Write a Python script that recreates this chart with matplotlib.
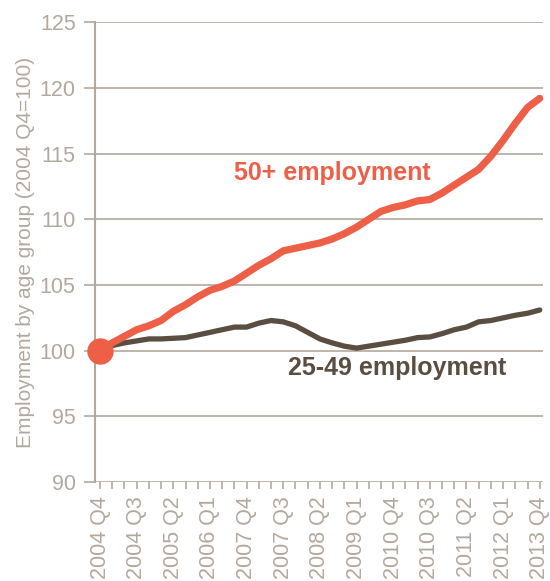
import numpy as np
import matplotlib
matplotlib.use("Agg")
import matplotlib.pyplot as plt

# quarterly index values, 2004 Q4 = 100
older = [100.0, 100.6, 101.1, 101.6, 101.9, 102.3, 103.0, 103.5, 104.1, 104.6,
         104.9, 105.3, 105.9, 106.5, 107.0, 107.6, 107.8, 108.0, 108.2, 108.5,
         108.9, 109.4, 110.0, 110.6, 110.9, 111.1, 111.4, 111.5, 112.0, 112.6,
         113.2, 113.8, 114.8, 116.0, 117.3, 118.5, 119.2]
prime = [100.0, 100.4, 100.6, 100.75, 100.9, 100.9, 100.95, 101.0, 101.2, 101.4,
         101.6, 101.8, 101.8, 102.1, 102.3, 102.2, 101.9, 101.4, 100.9, 100.6,
         100.35, 100.2, 100.35, 100.5, 100.65, 100.8, 101.0, 101.05, 101.3, 101.6,
         101.8, 102.2, 102.3, 102.5, 102.7, 102.85, 103.1]
tick_labels = ["2004 Q4", "2004 Q3", "2005 Q2", "2006 Q1", "2007 Q4", "2007 Q3",
               "2008 Q2", "2009 Q1", "2010 Q4", "2010 Q3", "2011 Q2", "2012 Q1",
               "2013 Q4"]
y_ticks = [90, 95, 100, 105, 110, 115, 120, 125]

red = "#EE5F48"
dark = "#5A4D42"
grey = "#B3A89E"

plt.rcParams["font.family"] = ["Liberation Sans", "DejaVu Sans"]

fig = plt.figure(figsize=(5.5, 5.81), dpi=100)
ax = fig.add_axes([0.173, 0.170, 0.815, 0.792])

x = np.arange(len(older))
ax.plot(x, prime, color=dark, lw=3.8, solid_capstyle="round", zorder=3)
ax.plot(x, older, color=red, lw=5.2, solid_capstyle="round", zorder=4)
ax.plot([0], [older[0]], "o", color=red, ms=18, zorder=5, clip_on=False)

ax.set_ylim(90, 125)
ax.set_xlim(-0.4, 36.3)
ax.set_yticks(y_ticks)
ax.set_yticklabels([str(v) for v in y_ticks])
ax.set_xticks(x[::3])
ax.set_xticklabels(tick_labels, rotation=90)
ax.set_xticks(x, minor=True)

ax.grid(axis="y", color=grey, lw=1.2)
ax.set_axisbelow(True)
for side in ["top", "right", "bottom"]:
    ax.spines[side].set_visible(False)
ax.spines["left"].set_color(grey)
ax.spines["left"].set_linewidth(1.5)

ax.tick_params(axis="y", colors=grey, length=8, width=1.2, labelsize=15.5, pad=6)
ax.tick_params(axis="x", which="both", colors=grey, length=5, width=1.2,
               labelsize=15.5, pad=5)

ax.set_ylabel("Employment by age group (2004 Q4=100)", color=grey, fontsize=15,
              labelpad=3)

ax.text(11.0, 113.5, "50+ employment", color=red, fontsize=18, fontweight="bold",
        va="center", ha="left")
ax.text(15.4, 98.7, "25-49 employment", color=dark, fontsize=18, fontweight="bold",
        va="center", ha="left")

fig.savefig("out.png", dpi=100)
